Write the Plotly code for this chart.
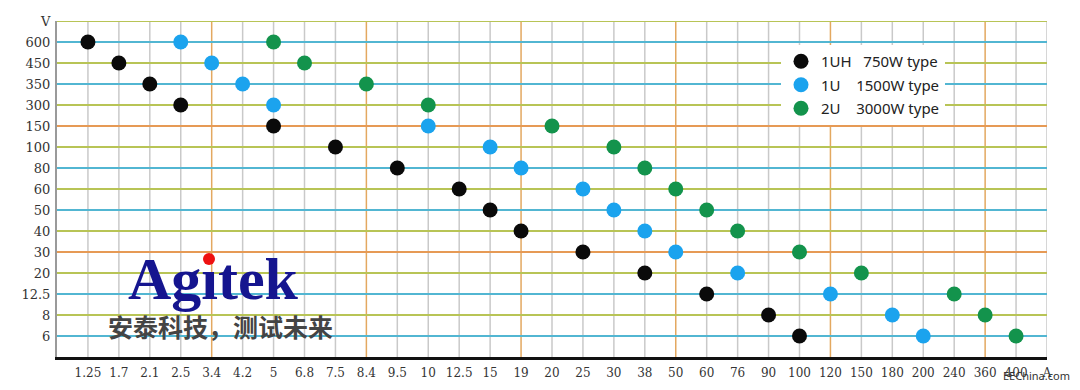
import plotly.graph_objects as go

# ---- data ----
x_categories = ["1.25", "1.7", "2.1", "2.5", "3.4", "4.2", "5", "6.8", "7.5", "8.4", "9.5", "10",
                "12.5", "15", "19", "20", "25", "30", "38", "50", "60", "76", "90", "100", "120",
                "150", "180", "200", "240", "360", "400", "A"]
y_categories = ["6", "8", "12.5", "20", "30", "40", "50", "60", "80", "100", "150", "300", "350",
                "450", "600", "V"]

series_names = ["1UH\u00a0\u00a0\u00a0750W type", "1U\u00a0\u00a0\u00a0\u00a01500W type",
                "2U\u00a0\u00a0\u00a0\u00a03000W type"]

uh750_current = ["1.25", "1.7", "2.1", "2.5", "5", "7.5", "9.5", "12.5", "15", "19", "25", "38",
                 "60", "90", "100"]
uh750_voltage = ["600", "450", "350", "300", "150", "100", "80", "60", "50", "40", "30", "20",
                 "12.5", "8", "6"]

u1500_current = ["2.5", "3.4", "4.2", "5", "10", "15", "19", "25", "30", "38", "50", "76", "120",
                 "180", "200"]
u1500_voltage = ["600", "450", "350", "300", "150", "100", "80", "60", "50", "40", "30", "20",
                 "12.5", "8", "6"]

u3000_current = ["5", "6.8", "8.4", "10", "20", "30", "38", "50", "60", "76", "100", "150", "240",
                 "360", "400"]
u3000_voltage = ["600", "450", "350", "300", "150", "100", "80", "60", "50", "40", "30", "20",
                 "12.5", "8", "6"]

# ---- styles ----
marker_colors = ["#0a0a0a", "#1ba3ee", "#13934c"]
BLUE_LINE = "#52b6d2"
YG_LINE = "#b8c456"
OR_LINE = "#e69a55"
h_line_colors = {"V": YG_LINE, "600": BLUE_LINE, "450": YG_LINE, "350": BLUE_LINE, "300": YG_LINE,
                 "150": OR_LINE, "100": YG_LINE, "80": BLUE_LINE, "60": YG_LINE, "50": BLUE_LINE,
                 "40": YG_LINE, "30": OR_LINE, "20": YG_LINE, "12.5": BLUE_LINE, "8": YG_LINE,
                 "6": BLUE_LINE}

fig = go.Figure()

all_series = [(uh750_current, uh750_voltage), (u1500_current, u1500_voltage),
              (u3000_current, u3000_voltage)]
for i, (xs, ys) in enumerate(all_series):
    fig.add_trace(go.Scatter(
        x=xs, y=ys, mode="markers", name=series_names[i], legendgroup=f"g{i}",
        marker=dict(size=15, color=marker_colors[i], line=dict(width=0)),
    ))

shapes = []
# vertical grid lines (category index positions)
for idx, c in enumerate(x_categories):
    color = "#e3a860" if (idx % 5 == 4 and c != "A") else "#c9c9c9"
    shapes.append(dict(type="line", xref="x", yref="paper", x0=idx, x1=idx, y0=0, y1=1,
                       line=dict(color=color, width=1.5), layer="below"))
# horizontal grid lines
for idx, c in enumerate(y_categories):
    shapes.append(dict(type="line", xref="paper", yref="y", x0=0, x1=1, y0=idx, y1=idx,
                       line=dict(color=h_line_colors[c], width=2), layer="below"))
# red dot of the logo
shapes.append(dict(type="circle", xref="paper", yref="paper",
                   x0=(203 - 57) / 990, x1=(215 - 57) / 990,
                   y0=(357 - 265) / 336, y1=(357 - 253) / 336,
                   fillcolor="#ee1111", line=dict(width=0), layer="above"))

# page has an 8px body margin, so the figure is sized/margined to compensate
fig.update_layout(
    width=1064, height=374,
    margin=dict(l=49, r=25, t=13, b=25),
    paper_bgcolor="white", plot_bgcolor="white",
    shapes=shapes,
    showlegend=True,
    legend=dict(
        x=(781 - 57) / 990, y=(357 - 45) / 336, xanchor="left", yanchor="top",
        bgcolor="white", borderwidth=0, tracegroupgap=1,
        font=dict(family="Noto Sans", size=15, color="#222222"),
        traceorder="grouped",
    ),
    xaxis=dict(
        type="category", categoryorder="array", categoryarray=x_categories,
        range=[-1, len(x_categories) - 1], showgrid=False, zeroline=False,
        showline=True, linecolor="#111111", linewidth=3,
        ticks="outside", ticklen=3, tickcolor="rgba(0,0,0,0)",
        tickfont=dict(family="DejaVu Serif", size=12, color="#333333"),
        fixedrange=True, automargin=False,
    ),
    yaxis=dict(
        type="category", categoryorder="array", categoryarray=y_categories,
        range=[-1, len(y_categories) - 1], showgrid=False, zeroline=False,
        showline=True, linecolor="#9a9a9a", linewidth=2,
        ticks="outside", ticklen=2, tickcolor="rgba(0,0,0,0)",
        tickfont=dict(family="DejaVu Serif", size=13, color="#333333"),
        fixedrange=True, automargin=False,
    ),
    annotations=[
        dict(text="Ag\u0131tek", xref="paper", yref="paper",
             x=(213 - 57) / 990, y=(357 - 279) / 336, xanchor="center", yanchor="middle",
             showarrow=False,
             font=dict(family="Liberation Serif", size=60, color="#15158f", weight="bold")),
        dict(text="安泰科技，测试未来", xref="paper", yref="paper",
             x=(220 - 57) / 990, y=(357 - 326) / 336, xanchor="center", yanchor="middle",
             showarrow=False,
             font=dict(family="Noto Sans CJK SC", size=25, color="#444444", weight="bold")),
        dict(text="EEChina.com", xref="paper", yref="paper",
             x=(1036 - 57) / 990, y=(357 - 375) / 336, xanchor="center", yanchor="middle",
             showarrow=False,
             font=dict(family="Noto Sans", size=11, color="#333333")),
    ],
)

fig.write_html("out.html")
